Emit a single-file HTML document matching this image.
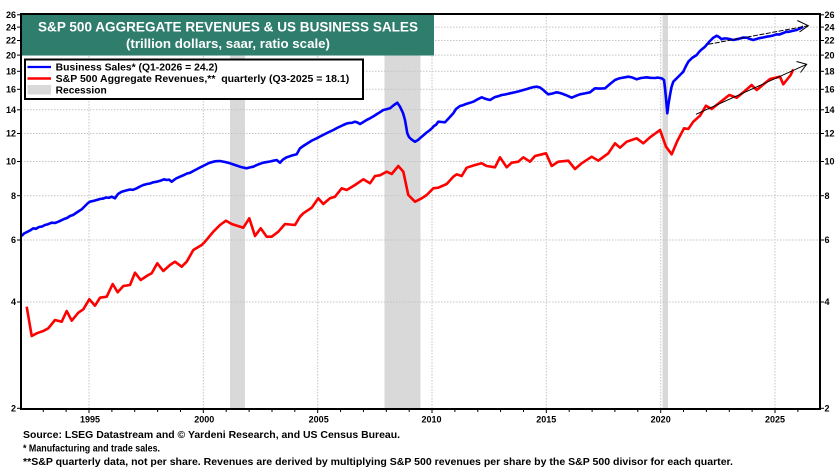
<!DOCTYPE html>
<html><head><meta charset="utf-8"><style>
html,body{margin:0;padding:0;background:#fff;}
svg{display:block;}
text{font-family:"Liberation Sans",Arial,sans-serif;font-weight:bold;fill:#000;}
</style></head><body>
<svg width="838" height="472" viewBox="0 0 838 472" xmlns="http://www.w3.org/2000/svg">
<rect x="0" y="0" width="838" height="472" fill="#fff"/>
<!-- recessions -->
<rect x="230" y="14" width="15" height="395" fill="#d9d9d9"/>
<rect x="384.5" y="14" width="36" height="395" fill="#d9d9d9"/>
<rect x="662.5" y="14" width="5.5" height="395" fill="#d9d9d9"/>
<!-- grid -->
<g stroke="#c4c4c4" stroke-width="1" stroke-dasharray="1.5,1.5" fill="none">
<line x1="21" y1="302" x2="820" y2="302"/>
<line x1="21" y1="240" x2="820" y2="240"/>
<line x1="21" y1="195.7" x2="820" y2="195.7"/>
<line x1="21" y1="161.5" x2="820" y2="161.5"/>
<line x1="21" y1="133.5" x2="820" y2="133.5"/>
<line x1="21" y1="109.8" x2="820" y2="109.8"/>
<line x1="21" y1="89.3" x2="820" y2="89.3"/>
<line x1="21" y1="71.3" x2="820" y2="71.3"/>
<line x1="21" y1="55.1" x2="820" y2="55.1"/>
<line x1="21" y1="40.5" x2="820" y2="40.5"/>
<line x1="21" y1="27.1" x2="820" y2="27.1"/>
<line x1="89" y1="14" x2="89" y2="409"/>
<line x1="203.3" y1="14" x2="203.3" y2="409"/>
<line x1="317.7" y1="14" x2="317.7" y2="409"/>
<line x1="432" y1="14" x2="432" y2="409"/>
<line x1="546.3" y1="14" x2="546.3" y2="409"/>
<line x1="660.7" y1="14" x2="660.7" y2="409"/>
<line x1="775" y1="14" x2="775" y2="409"/>
</g>
<!-- series -->
<polyline fill="none" stroke="#0000ff" stroke-width="2.6" stroke-linejoin="round" points="21.7,236 24,233.5 27,232 30,230.5 33.3,228.3 36,228.8 39,227 42,226.5 45,225 48,224.2 51.7,222.7 55,223 58.3,221.7 61,220.5 64,219 67,218 70,216 73,215 76,213 79,211 81.7,209.3 84,207 86,205 88,203 90,201.7 95,200.5 100,199 103,198.6 106,197.5 109,197.8 111.7,196.7 115,198.3 118,194 121.7,191.7 126,190.5 130,189.5 133,189.8 136.7,188.3 140,186.5 143.3,185 147,184 150,183.5 153,182.4 156.7,181.7 161,180.5 164,179.3 166.7,180 169,179.6 171.7,181.7 176,178.5 180,176.7 184,175 187,173.5 190,172.8 193.3,171 196,169.6 199,168 202,166.5 205,165 209,163 213.3,161.7 216,161.2 220,161 225,162 230,163.3 235,165 240,166.7 243,167.5 246.7,168.3 250,167.4 253.3,166.7 258,164.5 263.3,162.7 266,162.2 270,161.5 273,160.8 276.7,160 280,162.7 283,159.5 286.7,157.3 292,155.5 296.7,154.3 298.5,151 300,148.3 304,145.5 308,143 312,140.5 316.7,138.3 320,136.5 325,134 329,132 333.3,130 338,127.5 343.3,125 346,123.8 349,123 352,122.8 355,121.7 357.5,122.5 360,124 363,122.2 365,121 367,119.8 370,118.3 374,116 377,114 380,112.2 383.3,110 386,109.4 390,108.3 394,105 397.3,102.7 400,106.7 403,113 405,120 407.3,133.3 409,137 411,139 413,140.5 415,141.7 418,140 421.7,136.7 424,134.8 426,133 430,130 432,128.2 434,126 436,124.8 438.3,121.7 442,122 445,122.3 449,118 453.3,113.3 456,109 460,106 463,105.2 466,104 470,102.8 473.3,101.7 477,99.6 481.7,97.3 486,99 490,100 495,97 498,96.3 501.7,95 505,94.5 510,93.3 516,92 519,91.2 523.3,90 527,89 530,88 533,87.2 536.7,86.7 540,87.5 543.3,90 546,92.5 548.3,94.3 552,93.6 556.7,92.3 560,93 563,94 567,95.6 571.7,97.7 576,95.8 580,94.3 585,93.4 590,92.3 595,88.3 600,88.6 605,88.3 610,84 615,80 618,78.8 621,78 625,77.3 628.3,76.7 632,77.4 636.7,79.3 641,78 646.7,77.3 650,77.8 655,78 658,77.6 661.7,78.3 664,80 665,88 666,98.3 667.3,113.3 668.5,104 670,95 671.5,87 673.3,81.7 678,77 681,74 683.3,71.7 685,68 686.5,65 688.3,61.7 692,58 696.7,55 699,52 701,50 705,46.7 709,42 711,40 713.3,37.7 716.7,35.7 719,37 721.7,39.3 724,38.4 727,38.5 730,39.2 733.3,40 737,39.2 740,38.5 743,37.6 746.7,37.7 750,39 753.3,40 757,38.8 760,38 763,37.5 766.7,36.7 771,36 774,35.2 776.7,34.3 779,34.6 782,33.5 786.7,31.7 789,31.8 792,31 796.7,30 800,28.5 803.3,26.7"/>
<polyline fill="none" stroke="#ff0000" stroke-width="2.6" stroke-linejoin="round" points="26.7,306.7 31.7,336 36.7,333.3 43.3,331 48.3,328.3 55,320 61.7,321.7 66.7,311 71.7,320.7 78.3,312.7 83.3,309.3 89.3,299.3 95,305.7 100,297.7 106.7,296.7 112.7,284 117.7,292.3 123.3,286 130,285 135,272.7 140.7,280 148.3,275 151.7,273.3 157.3,263.3 163.3,271 170,265 175,261.7 181.7,266.7 186.7,261.7 193.3,250 201.7,245 205,241.7 213.3,231.7 220,225 226,220.7 231.7,224 243.3,227.7 249.3,218.3 255,236 260.7,228.3 266.7,236.7 271.7,236.7 278.3,231.7 285,224 295,225 300,216.7 303.3,213.3 311.7,207.7 318.3,198.3 323.3,204 330,198.3 335,196.7 341.7,188.3 346.7,190 355,185 363.3,179.3 370,183.3 375,176 380,175.3 386.7,171.7 391.7,174 398.3,166 403.3,171.7 408.3,195 415,201.7 421.7,198.3 426.7,195 433.3,188.3 438.3,187.7 446.7,184 453.3,176.7 456.7,174.3 461.7,176 466.7,167.7 475,165 481.7,163.3 486.7,166 495,167.3 500,157.3 506.7,167.3 511.7,162.7 518.3,161.7 523.3,157.3 530,161.7 535,156 546,153.3 551.7,166 558.3,161.7 568.3,160.7 575,169 581.7,163.3 591.7,156.7 598.3,160.7 608.3,153.3 615,143.3 620,147.7 626.7,141.7 636.7,138.3 643.3,143.3 650,137.3 660,130 666,146.7 671.7,154.3 677.3,141 684,128.3 688.3,129 693.3,121.7 700,115.7 706,105.7 711.7,109 720,102.3 729.3,95 736.7,97.7 743.3,92.3 751.7,85 756.7,90 770,79 780,76.7 783.3,84.3 790.7,75 793.3,69.3"/>
<!-- trend arrows -->
<g stroke="#000" stroke-width="1" fill="none">
<line x1="708.3" y1="44.3" x2="808.3" y2="25.7" stroke-dasharray="5,1.5"/>
<polyline points="797.3,20.5 808.3,25.7 799.5,32"/>
<line x1="696" y1="114.3" x2="806.7" y2="64.3"/>
<polyline points="796.5,61.5 806.7,64.3 800.5,72.5"/>
</g>
<!-- frame -->
<g stroke="#000" fill="none">
<line x1="21" y1="14" x2="820" y2="14" stroke-width="2"/>
<line x1="21" y1="13" x2="21" y2="410" stroke-width="2"/>
<line x1="820" y1="13" x2="820" y2="410" stroke-width="2"/>
<line x1="20" y1="409" x2="821" y2="409" stroke-width="2"/>
</g>
<!-- y ticks -->
<g stroke="#000" stroke-width="1">
<line x1="17" y1="408.3" x2="21" y2="408.3"/><line x1="820" y1="408.3" x2="824" y2="408.3"/>
<line x1="17" y1="302" x2="21" y2="302"/><line x1="820" y1="302" x2="824" y2="302"/>
<line x1="17" y1="240" x2="21" y2="240"/><line x1="820" y1="240" x2="824" y2="240"/>
<line x1="17" y1="195.7" x2="21" y2="195.7"/><line x1="820" y1="195.7" x2="824" y2="195.7"/>
<line x1="17" y1="161.5" x2="21" y2="161.5"/><line x1="820" y1="161.5" x2="824" y2="161.5"/>
<line x1="17" y1="133.5" x2="21" y2="133.5"/><line x1="820" y1="133.5" x2="824" y2="133.5"/>
<line x1="17" y1="109.8" x2="21" y2="109.8"/><line x1="820" y1="109.8" x2="824" y2="109.8"/>
<line x1="17" y1="89.3" x2="21" y2="89.3"/><line x1="820" y1="89.3" x2="824" y2="89.3"/>
<line x1="17" y1="71.3" x2="21" y2="71.3"/><line x1="820" y1="71.3" x2="824" y2="71.3"/>
<line x1="17" y1="55.1" x2="21" y2="55.1"/><line x1="820" y1="55.1" x2="824" y2="55.1"/>
<line x1="17" y1="40.5" x2="21" y2="40.5"/><line x1="820" y1="40.5" x2="824" y2="40.5"/>
<line x1="17" y1="27.1" x2="21" y2="27.1"/><line x1="820" y1="27.1" x2="824" y2="27.1"/>
<line x1="17" y1="14.8" x2="21" y2="14.8"/><line x1="820" y1="14.8" x2="824" y2="14.8"/>
</g>
<!-- x ticks -->
<g stroke="#000" stroke-width="1">
<line x1="43.3" y1="409" x2="43.3" y2="412"/><line x1="66.1" y1="409" x2="66.1" y2="412"/><line x1="89" y1="409" x2="89" y2="413"/>
<line x1="111.9" y1="409" x2="111.9" y2="412"/><line x1="134.7" y1="409" x2="134.7" y2="412"/><line x1="157.6" y1="409" x2="157.6" y2="412"/><line x1="180.5" y1="409" x2="180.5" y2="412"/><line x1="203.3" y1="409" x2="203.3" y2="413"/>
<line x1="226.2" y1="409" x2="226.2" y2="412"/><line x1="249.1" y1="409" x2="249.1" y2="412"/><line x1="272" y1="409" x2="272" y2="412"/><line x1="294.8" y1="409" x2="294.8" y2="412"/><line x1="317.7" y1="409" x2="317.7" y2="413"/>
<line x1="340.6" y1="409" x2="340.6" y2="412"/><line x1="363.4" y1="409" x2="363.4" y2="412"/><line x1="386.3" y1="409" x2="386.3" y2="412"/><line x1="409.2" y1="409" x2="409.2" y2="412"/><line x1="432" y1="409" x2="432" y2="413"/>
<line x1="454.9" y1="409" x2="454.9" y2="412"/><line x1="477.8" y1="409" x2="477.8" y2="412"/><line x1="500.6" y1="409" x2="500.6" y2="412"/><line x1="523.5" y1="409" x2="523.5" y2="412"/><line x1="546.3" y1="409" x2="546.3" y2="413"/>
<line x1="569.2" y1="409" x2="569.2" y2="412"/><line x1="592.1" y1="409" x2="592.1" y2="412"/><line x1="614.9" y1="409" x2="614.9" y2="412"/><line x1="637.8" y1="409" x2="637.8" y2="412"/><line x1="660.7" y1="409" x2="660.7" y2="413"/>
<line x1="683.5" y1="409" x2="683.5" y2="412"/><line x1="706.4" y1="409" x2="706.4" y2="412"/><line x1="729.3" y1="409" x2="729.3" y2="412"/><line x1="752.1" y1="409" x2="752.1" y2="412"/><line x1="775" y1="409" x2="775" y2="413"/>
<line x1="797.9" y1="409" x2="797.9" y2="412"/>
</g>
<!-- y labels -->
<g font-size="9" text-anchor="end">
<text x="16" y="411.5">2</text><text x="16" y="305.2">4</text><text x="16" y="243.2">6</text><text x="16" y="198.9">8</text>
<text x="16" y="164.7">10</text><text x="16" y="136.7">12</text><text x="16" y="113">14</text><text x="16" y="92.5">16</text>
<text x="16" y="74.5">18</text><text x="16" y="58.3">20</text><text x="16" y="43.7">22</text><text x="16" y="30.3">24</text><text x="16" y="18">26</text>
</g>
<g font-size="9" text-anchor="start">
<text x="824.5" y="411.5">2</text><text x="824.5" y="305.2">4</text><text x="824.5" y="243.2">6</text><text x="824.5" y="198.9">8</text>
<text x="824.5" y="164.7">10</text><text x="824.5" y="136.7">12</text><text x="824.5" y="113">14</text><text x="824.5" y="92.5">16</text>
<text x="824.5" y="74.5">18</text><text x="824.5" y="58.3">20</text><text x="824.5" y="43.7">22</text><text x="824.5" y="30.3">24</text><text x="824.5" y="18">26</text>
</g>
<!-- x labels -->
<g font-size="9" text-anchor="middle">
<text x="90" y="422.5">1995</text><text x="204.3" y="422.5">2000</text><text x="318.7" y="422.5">2005</text>
<text x="431.5" y="422.5">2010</text><text x="546.3" y="422.5">2015</text><text x="660.7" y="422.5">2020</text><text x="775" y="422.5">2025</text>
</g>
<!-- title box -->
<rect x="22" y="15" width="412" height="40.5" fill="#2e7d6d"/>
<text x="228" y="31.5" font-size="13.5" text-anchor="middle" style="fill:#fff" textLength="380" lengthAdjust="spacingAndGlyphs">S&amp;P 500 AGGREGATE REVENUES &amp; US BUSINESS SALES</text>
<text x="228" y="48" font-size="12.5" text-anchor="middle" style="fill:#fff" textLength="204" lengthAdjust="spacingAndGlyphs">(trillion dollars, saar, ratio scale)</text>
<!-- legend -->
<rect x="25" y="59.5" width="338" height="39.5" fill="#fff" stroke="#000" stroke-width="2"/>
<line x1="27.5" y1="67" x2="51" y2="67" stroke="#0000ff" stroke-width="2.2"/>
<line x1="27.5" y1="78.5" x2="51" y2="78.5" stroke="#ff0000" stroke-width="2.6"/>
<rect x="27.5" y="85" width="23.5" height="9.5" fill="#d9d9d9"/>
<text x="55.7" y="70.7" font-size="10" textLength="162" lengthAdjust="spacingAndGlyphs">Business Sales* (Q1-2026 = 24.2)</text>
<text x="55.7" y="82.2" font-size="10" textLength="293.5" lengthAdjust="spacingAndGlyphs" xml:space="preserve">S&amp;P 500 Aggregate Revenues,**  quarterly (Q3-2025 = 18.1)</text>
<text x="55.7" y="93.7" font-size="10" textLength="51" lengthAdjust="spacingAndGlyphs">Recession</text>
<!-- footnotes -->
<text x="23" y="438" font-size="10.5" textLength="377" lengthAdjust="spacingAndGlyphs">Source: LSEG Datastream and © Yardeni Research, and US Census Bureau.</text>
<text x="23" y="451.5" font-size="10.5" textLength="137" lengthAdjust="spacingAndGlyphs">* Manufacturing and trade sales.</text>
<text x="23" y="465" font-size="10.5" textLength="710" lengthAdjust="spacingAndGlyphs">**S&amp;P quarterly data, not per share. Revenues are derived by multiplying S&amp;P 500 revenues per share by the S&amp;P 500 divisor for each quarter.</text>
</svg>
</body></html>
